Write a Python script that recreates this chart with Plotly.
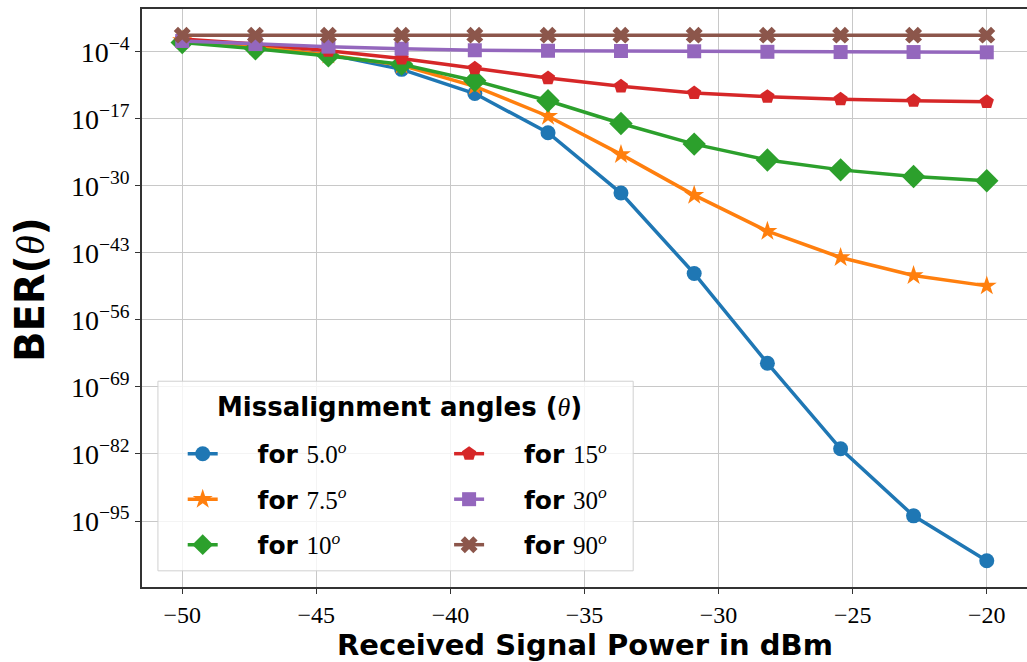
import plotly.graph_objects as go

# Received signal power (dBm)
power_dbm = [-50.0, -47.27, -44.55, -41.82, -39.09, -36.36, -33.64, -30.91, -28.18, -25.45, -22.73, -20.0]

# log10(BER)
log_ber_5 = [-1.8, -3.0, -4.5, -7.4, -12.1, -19.7, -31.4, -47.0, -64.4, -81.0, -94.0, -102.7]
log_ber_7_5 = [-1.8, -3.0, -4.6, -6.6, -10.7, -16.5, -23.9, -31.8, -38.8, -43.9, -47.4, -49.4]
log_ber_10 = [-2.2, -3.4, -4.8, -6.4, -9.6, -13.5, -17.9, -21.9, -25.0, -26.9, -28.2, -29.0]
log_ber_15 = [-1.5, -2.5, -3.8, -5.3, -7.2, -9.1, -10.7, -12.0, -12.7, -13.2, -13.5, -13.7]
log_ber_30 = [-1.9, -2.5, -3.0, -3.4, -3.7, -3.8, -3.85, -3.9, -4.0, -4.05, -4.05, -4.1]
log_ber_90 = [-0.77] * 12

y_tick_exp = [-4, -17, -30, -43, -56, -69, -82, -95]
x_ticks = [-50, -45, -40, -35, -30, -25, -20]

SERIF = "Liberation Serif"
SANS = "DejaVu Sans"
NB = "\u00a0"

series = [
    ("5.0", log_ber_5, "#1f77b4", "circle", 15, "legend"),
    ("7.5", log_ber_7_5, "#ff7f0e", "star", 15, "legend"),
    ("10", log_ber_10, "#2ca02c", "diamond", 18, "legend"),
    ("15", log_ber_15, "#d62728", "pentagon", 15, "legend2"),
    ("30", log_ber_30, "#9467bd", "square", 14, "legend2"),
    ("90", log_ber_90, "#8c564b", "x", 15, "legend2"),
]

fig = go.Figure()
for i, (ang, vals, col, sym, sz, lg) in enumerate(series):
    name = (NB * 4 + 'for <span style="font-family:\'%s\';font-weight:normal">%s<sup><i>o</i></sup></span>'
            % (SERIF, ang))
    fig.add_trace(go.Scatter(
        x=power_dbm, y=[10 ** v for v in vals], mode="lines+markers",
        name=name, legend=lg, legendgroup="g%d" % i,
        line=dict(color=col, width=3.5),
        marker=dict(symbol=sym, size=sz, color=col, line=dict(width=0)),
    ))

tick_text = ["10<sup>\u2212%d</sup>" % (-e) for e in y_tick_exp]
x_text = ["\u2212%d" % (-v) for v in x_ticks]

legend_font = dict(family=SANS, size=25, color="black", weight="bold")

fig.update_layout(
    width=1027, height=662,
    margin=dict(l=142, r=0, t=9, b=75, autoexpand=False),
    paper_bgcolor="white", plot_bgcolor="white",
    xaxis=dict(
        range=[-51.5, -18.5], tickmode="array", tickvals=x_ticks, ticktext=x_text,
        showgrid=True, gridcolor="#c8c8c8", gridwidth=1,
        showline=True, mirror=True, linecolor="#333", linewidth=1.5,
        ticks="outside", ticklen=5, tickcolor="#333",
        tickfont=dict(family=SERIF, size=24, color="black"),
        zeroline=False, automargin=False,
    ),
    yaxis=dict(
        type="log", range=[-107.8, 4.3], autorange=False,
        tickmode="array", tickvals=[10 ** e for e in y_tick_exp], ticktext=tick_text,
        showgrid=True, gridcolor="#c8c8c8", gridwidth=1,
        showline=True, mirror=True, linecolor="#333", linewidth=1.5,
        ticks="outside", ticklen=5, tickcolor="#333",
        tickfont=dict(family=SERIF, size=28, color="black"),
        zeroline=False, automargin=False,
    ),
    legend=dict(
        x=0.046, y=0.27, xanchor="left", yanchor="top",
        bgcolor="rgba(0,0,0,0)", borderwidth=0,
        font=legend_font, tracegroupgap=10,
    ),
    legend2=dict(
        x=0.347, y=0.27, xanchor="left", yanchor="top",
        bgcolor="rgba(0,0,0,0)", borderwidth=0,
        font=legend_font, tracegroupgap=10,
    ),
    shapes=[dict(
        type="rect", xref="paper", yref="paper", layer="above",
        x0=0.018, x1=0.555, y0=0.028, y1=0.356,
        fillcolor="rgba(255,255,255,0.8)", line=dict(color="#d0d0d0", width=1),
    )],
    annotations=[
        dict(
            xref="paper", yref="paper", x=0.2915, y=0.311, xanchor="center", yanchor="middle",
            showarrow=False,
            text='Missalignment angles (<span style="font-family:\'%s\';font-weight:normal"><i>\u03b8</i></span>)' % SERIF,
            font=dict(family=SANS, size=26, color="black", weight="bold"),
        ),
        dict(
            xref="paper", yref="paper", x=0.5, y=-(645 - 587) / 578, xanchor="center", yanchor="middle",
            showarrow=False, text="Received Signal Power in dBm",
            font=dict(family=SANS, size=29, color="black", weight="bold"),
        ),
        dict(
            xref="paper", yref="paper", x=-(142 - 30) / 885, y=(587 - 290) / 578,
            xanchor="center", yanchor="middle", textangle=-90,
            showarrow=False,
            text='BER(<span style="font-family:\'%s\';font-weight:normal"><i>\u03b8</i></span>)' % SERIF,
            font=dict(family=SANS, size=40, color="black", weight="bold"),
        ),
    ],
)

fig.write_html("out.html", config={"displayModeBar": False},
               post_script="document.body.style.margin='0';")
